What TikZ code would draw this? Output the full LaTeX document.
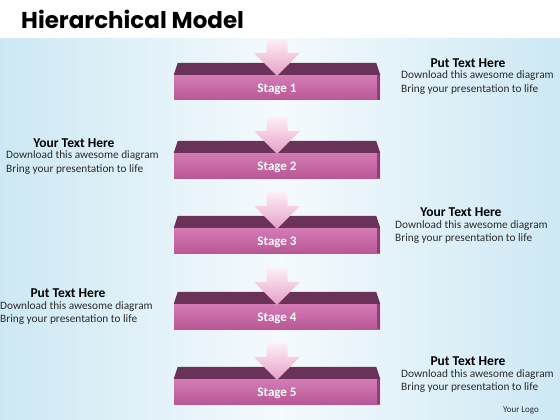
\documentclass[tikz,border=0pt]{standalone}
\usepackage{fontspec}
\setmainfont{Carlito}
\newfontfamily\titlefont{Poppins}
\usetikzlibrary{positioning}

\definecolor{bgblue}{HTML}{CDE8F4}
\definecolor{bglight}{HTML}{F4FAFD}
\definecolor{plumtop}{HTML}{6B3259}
\definecolor{stagelight}{HTML}{D47BB4}
\definecolor{stagedark}{HTML}{B95895}
\definecolor{stageside}{HTML}{8E3F74}
\definecolor{arrowtop}{HTML}{FDF0F6}
\definecolor{arrowbot}{HTML}{E6A0C6}
\definecolor{textgray}{HTML}{2B2B2B}

\begin{document}
\begin{tikzpicture}[x=1pt,y=-1pt,
    stagebox/.style={minimum width=206pt,minimum height=25pt,inner sep=0pt,
      top color=stagelight,bottom color=stagedark},
    stagelabel/.style={inner sep=0pt,text=white,font=\bfseries\fontsize{13}{15}\selectfont},
    head/.style={inner sep=0pt,font=\bfseries\fontsize{13.5}{16}\selectfont},
    body/.style={anchor=west,align=left,inner sep=0pt,text=textgray,
      font=\fontsize{11.3}{13.5}\selectfont}]
      \useasboundingbox (0,0) rectangle (560,420);
      \fill[white] (0,0) rectangle (560,39);
      \shade[left color=bgblue,right color=bgblue,middle color=bglight] (0,39) rectangle (560,420);
      \node[anchor=west,inner sep=0pt,font=\titlefont\bfseries\fontsize{23}{26}\selectfont] (title) at (21,19) {Hierarchical Model};
      % stages with their arrows
      \foreach \n/\t in {1/63,2/141,3/216,4/292,5/367}{
        \node[stagebox] (stage\n) at (277,\t+24.5) {};
        \node[stagelabel] (label\n) at ([yshift=-1.5pt]stage\n.center) {Stage \n};
        \fill[stageside] ([xshift=-3pt]stage\n.north east) rectangle (stage\n.south east);
        \draw[stagelight!70!white,line width=0.8pt] (stage\n.north west) -- (stage\n.north east);
        \fill[plumtop] ([xshift=4pt,yshift=12pt]stage\n.north west) -- ([xshift=-4pt,yshift=12pt]stage\n.north east)
          -- (stage\n.north east) -- (stage\n.north west) -- cycle;
        \shade[top color=arrowtop,bottom color=arrowbot]
          ([xshift=-10.5pt,yshift=36pt]stage\n.north) -- ([xshift=10.5pt,yshift=36pt]stage\n.north)
          -- ([xshift=10.5pt,yshift=22pt]stage\n.north) -- ([xshift=23pt,yshift=22pt]stage\n.north)
          -- ([yshift=-1pt]stage\n.north) -- ([xshift=-23pt,yshift=22pt]stage\n.north)
          -- ([xshift=-10.5pt,yshift=22pt]stage\n.north) -- cycle;
      }
      % text blocks
      \node[head] (head1) at (468,63) {Put Text Here};
      \node[body] (body1) at (401,82.5) {Download this awesome diagram\\Bring your presentation to life};
      \node[head] (head2) at (74,143) {Your Text Here};
      \node[body] (body2) at (6,162.5) {Download this awesome diagram\\Bring your presentation to life};
      \node[head] (head3) at (461,212) {Your Text Here};
      \node[body] (body3) at (395,232) {Download this awesome diagram\\Bring your presentation to life};
      \node[head] (head4) at (68,293) {Put Text Here};
      \node[body] (body4) at (0,313) {Download this awesome diagram\\Bring your presentation to life};
      \node[head] (head5) at (468,361) {Put Text Here};
      \node[body] (body5) at (401,381) {Download this awesome diagram\\Bring your presentation to life};
      \node[inner sep=0pt,text=textgray,font=\fontsize{9}{11}\selectfont] (logo) at (521,410) {Your Logo};
    \end{tikzpicture}
\end{document}
